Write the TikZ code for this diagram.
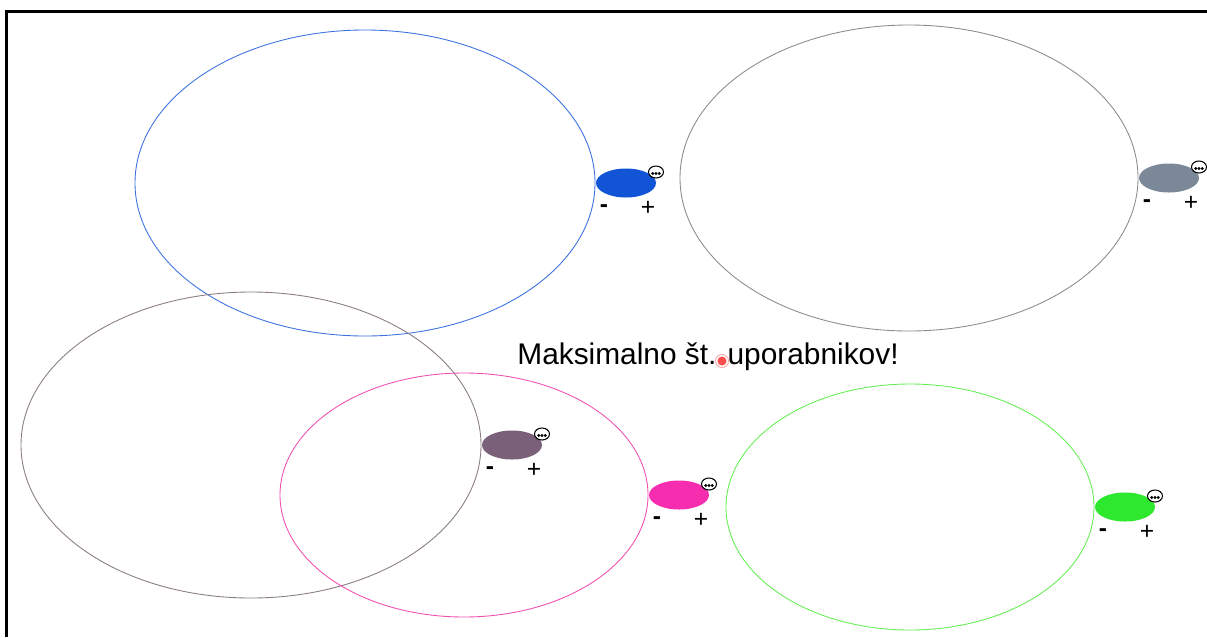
\documentclass[tikz,border=0pt]{standalone}
\usepackage{fontspec}
\setmainfont{Liberation Sans}
\definecolor{ringblue}{HTML}{3C72E0}
\definecolor{padblue}{HTML}{1155D6}
\definecolor{ringgray}{HTML}{8C8C8C}
\definecolor{padgray}{HTML}{7B8898}
\definecolor{ringmauve}{HTML}{8A7C82}
\definecolor{padmauve}{HTML}{7A6078}
\definecolor{ringpink}{HTML}{F050B0}
\definecolor{padpink}{HTML}{F52DAE}
\definecolor{ringgreen}{HTML}{66EE55}
\definecolor{padgreen}{HTML}{2EE82E}
\tikzset{
  sign/.style={inner sep=0pt,font=\fontsize{14}{14}\selectfont},
  dots/.style={draw,line width=0.6pt,fill=white},
}
\begin{document}
\begin{tikzpicture}[x=0.02cm,y=-0.02cm]
\useasboundingbox (0,0) rectangle (1207,637);
\draw[line width=1.3pt] (6.5,637) -- (6.5,11.5) -- (1207,11.5);
% big rings with their small pads on the right
\foreach \n/\x/\y/\rx/\ry/\c in {a/365/183/230/153/blue,b/909/178/229/153/gray,
    c/251/445/230/153/mauve,d/464/495/184/122/pink,e/910/507/184/123/green} {
  \draw[ring\c,line width=0.5pt] (\x,\y) ellipse [x radius=\rx, y radius=\ry];
  \coordinate (\n) at (\x+\rx+31,\y);
  \fill[pad\c] (\n) ellipse [x radius=30, y radius=14.5];
  \draw[dots] ([shift={(30,-11)}]\n) ellipse [x radius=7.5, y radius=6];
  \foreach \d in {-3.2,0,3.2} { \fill ([shift={(30+\d,-9.5)}]\n) circle [radius=1.6]; }
  \node[sign] (\n m) at ([shift={(-22,26)}]\n) {\bfseries -};
  \node[sign] (\n p) at ([shift={(22,25)}]\n) {+};
}
\node[inner sep=0pt,font=\fontsize{17}{17}\selectfont] (msg) at (708,357) {Maksimalno št. uporabnikov!};
\draw[red!35,fill=white,line width=0.5pt] (722,361) circle [radius=6.5];
\fill[red!70] (722,361) circle [radius=4.5];
\end{tikzpicture}
\end{document}
